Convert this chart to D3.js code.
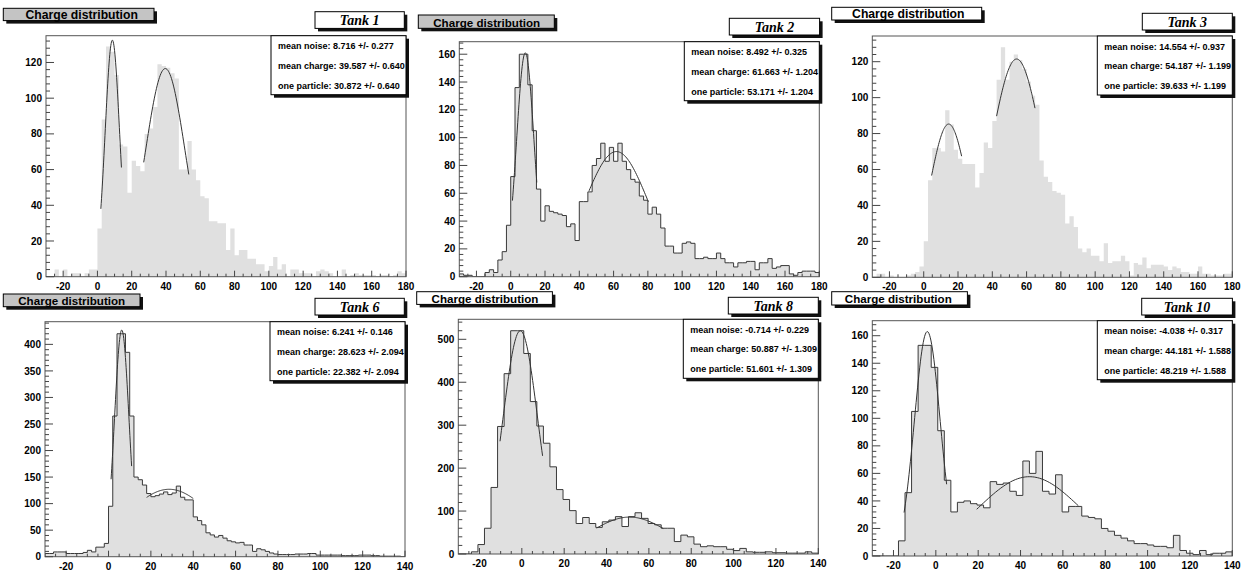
<!DOCTYPE html>
<html>
<head>
<meta charset="utf-8">
<script src="https://cdn.jsdelivr.net/npm/d3@7"></script>
<style>
  html, body { margin: 0; padding: 0; background: #fff; }
  svg { display: block; }
  text { font-family: "Liberation Sans", Arial, sans-serif; font-weight: bold; fill: #000; }
</style>
</head>
<body>
<svg id="chart" width="1248" height="571"></svg>
<script>
// ---- data ----
const tankNames = ["Tank 1", "Tank 2", "Tank 3", "Tank 6", "Tank 8", "Tank 10"];
const titleText = "Charge distribution";

const xRangeTop = [-30, 180];
const xRangeBottom = [-30, 140];
const xTicksTop = [-20, 0, 20, 40, 60, 80, 100, 120, 140, 160, 180];
const xTicksBottom = [-20, 0, 20, 40, 60, 80, 100, 120, 140];

// bin width of each histogram, first bin edge at the left end of the range
const binWidths = [2.5, 2.5, 2.5, 2, 170 / 55, 170 / 55];

const counts1 = [0,0,4,0,4,0,2,2,0,2,4,4,
  27,88,129,126,113,74,73,47, 65,62,59,80,83,95,119,118,
  117,114,111,60,60,76,60,54, 45,44,31,31,30,30,15,27,
  12,15,15,10,10,7,7,3, 6,11,4,7,0,4,4,2,
  2,2,0,3,4,3,2,0, 0,4,0,1,2,1,1,1, 1,0,1,1,0,1,3,2];
const counts2 = [2,1,1,0,0,0,3,5,3,12,18,37,
  72,136,160,160,138,105,63,40, 51,47,46,45,44,36,38,26,
  54,54,61,80,85,96,83,93, 83,96,83,77,70,68,58,55,
  45,50,45,35,22,22,17,17, 24,25,24,13,13,14,13,13,
  17,13,10,10,7,10,10,11, 11,5,10,10,13,6,7,8, 8,2,1,3,4,4,4,3];
const counts3 = [0,2,2,0,1,0,0,0,1,2,3,6,
  20,54,72,72,70,93,85,71, 66,63,63,63,50,58,75,72,
  87,110,128,110,120,124,121,116, 109,101,96,65,56,53,48,47,
  46,30,34,28,16,14,16,12, 12,9,19,8,9,9,12,9,
  1,8,7,11,5,7,7,7, 6,4,6,5,3,3,2,2, 6,2,2,1,1,1,2,2];
const counts6 = [6,6,9,9,9,6,6,6,6,8,12,9,18,18,25,
  95,265,420,420,385,265,150,145,135,119,
  113,115,118,122,117,120,133,112,107,107,
  75,68,60,45,41,37,40,35,30,28,
  26,27,22,22,10,15,13,10,7,5,
  4,4,4,4,5,5,5,6,6,3,
  3,3,3,3,3,2,2,2,2,3,
  3,3,2,2,1,1,1,1,1,0];
const counts8 = [0,0,5,22,60,155,297,420,520,520,
  467,355,298,258,203,150,127,101,71,85,
  71,62,75,79,87,64,87,96,83,71,
  68,60,60,29,44,40,23,17,19,17,
  17,11,8,13,5,4,4,5,3,3,
  2,2,2,5,2];
const counts10 = [0,0,0,0,11,46,105,153,153,137,
  91,55,32,39,40,38,37,35,54,52,
  53,47,44,69,60,76,47,45,59,32,
  36,36,29,28,27,20,18,15,13,11,
  9,9,8,7,7,6,15,4,2,1,
  4,1,2,2,3];

// gaussian fits: [amplitude, mean, sigma, from, to]
const fits1 = [[132.5, 8.716, 4.25, 2, 14], [116.6, 39.587, 11.5, 27, 53.3]];
const fits2 = [[161, 8.492, 5.1, 1, 15.2], [90, 61.663, 18.4, 45.7, 80.3]];
const fits3 = [[85.3, 14.554, 11, 4.6, 22.1], [121.5, 54.187, 15, 42.5, 64.9]];
const fits6 = [[427, 6.241, 3.44, 1.2, 10.9], [127, 28.623, 21, 18, 40]];
const fits8 = [[520, -0.714, 8.2, -10.3, 9.8], [86, 50.887, 18.5, 35.3, 66.8]];
const fits10 = [[163, -4.038, 6.05, -15, 5.1], [57.6, 44.181, 24.2, 19.3, 67.3]];

const statsText = [
  ["mean noise: 8.716 +/- 0.277", "mean charge: 39.587 +/- 0.640", "one particle: 30.872 +/- 0.640"],
  ["mean noise: 8.492 +/- 0.325", "mean charge: 61.663 +/- 1.204", "one particle: 53.171 +/- 1.204"],
  ["mean noise: 14.554 +/- 0.937", "mean charge: 54.187 +/- 1.199", "one particle: 39.633 +/- 1.199"],
  ["mean noise: 6.241 +/- 0.146", "mean charge: 28.623 +/- 2.094", "one particle: 22.382 +/- 2.094"],
  ["mean noise: -0.714 +/- 0.229", "mean charge: 50.887 +/- 1.309", "one particle: 51.601 +/- 1.309"],
  ["mean noise: -4.038 +/- 0.317", "mean charge: 44.181 +/- 1.588", "one particle: 48.219 +/- 1.588"]
];

const yMax = [135, 169, 134.3, 442.7, 546.6, 170.9];
const yStep = [20, 20, 20, 50, 100, 20];
const yMinorStep = [4, 4, 4, 10, 20, 4];

// ---- styling / layout ----
const counts = [counts1, counts2, counts3, counts6, counts8, counts10];
const fits = [fits1, fits2, fits3, fits6, fits8, fits10];
const outlined = [false, true, false, true, true, true];
const grayTitle = [true, true, false, true, false, false];

// frame: x0,y0,x1,y1 ; title: x,y,w,h,textX,fontSize ; tank: x,y,w,h
const layout = [
  { frame: [46, 35.7, 406, 276.7], title: [3.3, 8.3, 150.7, 12.3, 81.7, 12.2], tank: [315, 11.7, 89.3, 16.7] },
  { frame: [459.3, 41.7, 819.3, 276.7], title: [418.3, 15, 136, 13.3, 486.7, 11.6], tank: [729.3, 18.3, 90.3, 16.7] },
  { frame: [872.3, 36, 1232.3, 277.3], title: [831.7, 7.3, 150, 12.7, 908.3, 12.2], tank: [1142.3, 13.3, 90, 16.7] },
  { frame: [45, 321.7, 405, 556.7], title: [3.3, 294, 136.7, 12.7, 71.7, 11.6], tank: [315, 298.3, 89.3, 16.7] },
  { frame: [458.3, 319.3, 818.3, 554], title: [416.7, 291.7, 135.7, 12.7, 485, 11.6], tank: [728.3, 297.3, 90, 16.7] },
  { frame: [872.3, 320.7, 1232.3, 556], title: [831.7, 291.7, 135.7, 13.3, 898.3, 11.6], tank: [1141.7, 298.3, 90.7, 16.7] }
];

const svg = d3.select("#chart");

function shadowBox(g, x, y, w, h, fill) {
  g.append("rect").attr("x", x + 3).attr("y", y + 3).attr("width", w).attr("height", h)
    .attr("fill", "#111");
  g.append("rect").attr("x", x).attr("y", y).attr("width", w).attr("height", h)
    .attr("fill", fill).attr("stroke", "#000").attr("stroke-width", 1);
}

layout.forEach((L, i) => {
  const [fx0, fy0, fx1, fy1] = L.frame;
  const isTop = i < 3;
  const xr = isTop ? xRangeTop : xRangeBottom;
  const x = d3.scaleLinear().domain(xr).range([fx0, fx1]);
  const y = d3.scaleLinear().domain([0, yMax[i]]).range([fy1, fy0]);
  const g = svg.append("g");

  g.append("clipPath").attr("id", "clip" + i)
    .append("rect").attr("x", fx0).attr("y", fy0).attr("width", fx1 - fx0).attr("height", fy1 - fy0);
  const plot = g.append("g").attr("clip-path", `url(#clip${i})`);

  // histogram as a step contour
  const w = binWidths[i];
  const pts = [[xr[0], 0]];
  counts[i].forEach((c, k) => {
    pts.push([xr[0] + k * w, c], [xr[0] + (k + 1) * w, c]);
  });
  pts.push([xr[0] + counts[i].length * w, 0]);
  const line = d3.line().x(d => x(d[0])).y(d => y(d[1]));
  plot.append("path").attr("d", line(pts))
    .attr("fill", "#e0e0e0")
    .attr("stroke", outlined[i] ? "#3a3a3a" : "none")
    .attr("stroke-width", 1);

  // fitted gaussians
  fits[i].forEach(([a, m, s, lo, hi]) => {
    const xs = d3.range(61).map(j => lo + (hi - lo) * j / 60);
    plot.append("path")
      .attr("d", d3.line().x(v => x(v)).y(v => y(a * Math.exp(-0.5 * ((v - m) / s) ** 2)))(xs))
      .attr("fill", "none").attr("stroke", "#333").attr("stroke-width", 1);
  });

  // frame
  g.append("rect").attr("x", fx0).attr("y", fy0).attr("width", fx1 - fx0).attr("height", fy1 - fy0)
    .attr("fill", "none").attr("stroke", "#555").attr("stroke-width", 1);

  // x ticks
  const xMajor = isTop ? xTicksTop : xTicksBottom;
  const xMinor = d3.range(xr[0] + 5, xr[1], 5).filter(v => !xMajor.includes(v));
  const ticks = g.append("g").attr("stroke", "#444").attr("stroke-width", 1);
  xMinor.forEach(v => ticks.append("line").attr("x1", x(v)).attr("x2", x(v)).attr("y1", fy1).attr("y2", fy1 - 3));
  xMajor.forEach(v => ticks.append("line").attr("x1", x(v)).attr("x2", x(v)).attr("y1", fy1).attr("y2", fy1 - 6));
  xMajor.forEach(v => g.append("text").attr("x", x(v)).attr("y", fy1 + 13)
    .attr("text-anchor", "middle").attr("font-size", 10).text(v));

  // y ticks
  const yMajor = d3.range(0, yMax[i], yStep[i]);
  const yMinor = d3.range(0, yMax[i], yMinorStep[i]).filter(v => v % yStep[i] !== 0);
  yMinor.forEach(v => ticks.append("line").attr("x1", fx0).attr("x2", fx0 + 4).attr("y1", y(v)).attr("y2", y(v)));
  yMajor.forEach(v => ticks.append("line").attr("x1", fx0).attr("x2", fx0 + 8).attr("y1", y(v)).attr("y2", y(v)));
  yMajor.forEach(v => g.append("text").attr("x", fx0 - 4).attr("y", y(v) + 3.6)
    .attr("text-anchor", "end").attr("font-size", 10).text(v));

  // stats box
  const bw = 135, bh = 59, bx = fx1 - bw, by = fy0;
  shadowBox(g, bx, by, bw, bh, "#fff");
  statsText[i].forEach((t, k) => {
    g.append("text").attr("x", bx + 7).attr("y", by + bh * [0.232, 0.557, 0.9][k])
      .attr("font-size", 9).text(t);
  });

  // title box
  const [tx, ty, tw, th, ttx, tfs] = L.title;
  shadowBox(g, tx, ty, tw, th, grayTitle[i] ? "#c4c4c4" : "#fff");
  g.append("text").attr("x", ttx).attr("y", ty + th - 1.8)
    .attr("text-anchor", "middle").attr("font-size", tfs).text(titleText);

  // tank label box
  const [kx, ky, kw, kh] = L.tank;
  shadowBox(g, kx, ky, kw, kh, "#fff");
  g.append("text").attr("x", kx + kw / 2).attr("y", ky + kh - 3)
    .attr("text-anchor", "middle")
    .style("font-family", '"Liberation Serif", "Times New Roman", serif')
    .style("font-style", "italic")
    .attr("font-size", 14).text(tankNames[i]);
});
</script>
</body>
</html>
